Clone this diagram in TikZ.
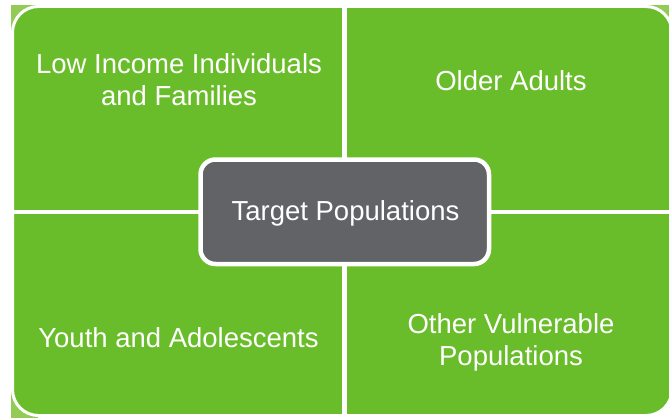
\documentclass[tikz,border=0pt]{standalone}
\usepackage{fontspec}
\setmainfont{Liberation Sans}
\definecolor{qgreen}{RGB}{106,189,42}
\definecolor{lgreen}{RGB}{146,204,86}
\definecolor{hubgrey}{RGB}{98,99,102}
\tikzset{
  patch/.style={fill=lgreen, draw=none},
  panel/.style={fill=qgreen, draw=white, line width=3bp, rounded corners=26bp},
  divider/.style={draw=white, line width=4.5bp},
  hubbox/.style={fill=hubgrey, draw=white, line width=4.5bp, rounded corners=15bp},
  lbl/.style={text=white, inner sep=0pt, align=center, font=\fontsize{27.5bp}{32bp}\selectfont}
}
\begin{document}
\begin{tikzpicture}[x=1bp,y=1bp]
\useasboundingbox (0,0) rectangle (669,418);
% light corner patches
\fill[patch] (11,413) rectangle (38,386);
\fill[patch] (643,413) rectangle (669,386);
\fill[patch] (11,0) rectangle (38,30);
% main panel
\path[panel] (12.5,2.5) rectangle (672,411.5);
% dividers
\coordinate (vtop) at (344.5,411.5);
\coordinate (vbot) at (344.5,2.5);
\coordinate (hl) at (12.5,206);
\coordinate (hr) at (672,206);
\draw[divider] (vtop) -- (vbot);
\draw[divider] (hl) -- (hr);
% hub
\path[hubbox] (200.5,154) rectangle (489,258.5);
% labels
\node[lbl, anchor=center] (tl) at (179,338) {Low Income Individuals\\and Families};
\node[lbl, anchor=base] (tr) at (511,328) {Older Adults};
\node[lbl, anchor=base] (hub) at (345.5,198) {Target Populations};
\node[lbl, anchor=base] (bl) at (178.5,71) {Youth and Adolescents};
\node[lbl, anchor=center] (br) at (511,76) {Other Vulnerable\\Populations};
\end{tikzpicture}
\end{document}
